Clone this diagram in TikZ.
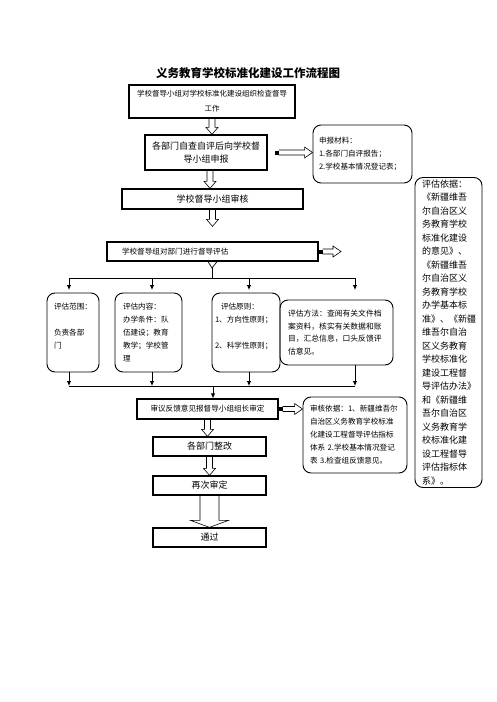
\documentclass[tikz,border=0pt]{standalone}
\usepackage{fontspec}
\setmainfont{Noto Sans CJK SC}
\usetikzlibrary{arrows.meta,positioning,calc}

\newcommand{\vblock}[3][3pt]{%
  \draw[hollow] let \p1=(#2), \p2=(#3) in
    (\x1-#1,\y1) -- (\x1-#1,\y2+7pt) -- (\x1-2*#1,\y2+7pt) -- (\x1,\y2)
    -- (\x1+2*#1,\y2+7pt) -- (\x1+#1,\y2+7pt) -- (\x1+#1,\y1);
}
\newcommand{\hblock}[2]{%
  \fill let \p1=(#1) in (\x1,\y1-2pt) rectangle (\x1+4pt,\y1+2pt);
  \draw[hollow] let \p1=(#1), \p2=(#2) in
    (\x1+4pt,\y1+2.5pt) -- (\x2-8pt,\y1+2.5pt) -- (\x2-8pt,\y1+5.5pt) -- (\x2,\y1)
    -- (\x2-8pt,\y1-5.5pt) -- (\x2-8pt,\y1-2.5pt) -- (\x1+4pt,\y1-2.5pt);
}

\begin{document}
\begin{tikzpicture}[
    x=1pt, y=-1pt,
    mainbox/.style={rectangle, draw, line width=1.3pt, inner sep=0pt, align=center},
    roundbox/.style={rectangle, draw, rounded corners=8pt, line width=0.9pt, inner ysep=0pt, align=left},
    hollow/.style={draw, line width=0.6pt},
    arrow/.style={-{Latex[length=5pt,width=4.5pt]}, line width=0.8pt},
    small/.style={font=\fontsize{7.6}{13}\selectfont},
    mid/.style={font=\fontsize{9}{13}\selectfont}
]
\useasboundingbox (0,0) rectangle (496,702);

\node[font=\fontsize{11.5}{14}\selectfont\bfseries] (title) at (248,73) {义务教育学校标准化建设工作流程图};

\node[mainbox, small, font=\fontsize{7.5}{15}\selectfont, minimum width=166pt, minimum height=33pt] (b1) at (212,101.5)
  {学校督导小组对学校标准化建设组织检查督导\\工作};
\node[mainbox, mid, minimum width=122pt, minimum height=35pt] (b2) at (206,152.5)
  {各部门自查自评后向学校督\\导小组申报};
\node[roundbox, small, text width=87pt, inner xsep=6pt, minimum height=58pt] (r1) at (362.5,154)
  {申报材料：\\1.各部门自评报告；\\2.学校基本情况登记表；};
\node[mainbox, mid, minimum width=181pt, minimum height=20pt] (b3) at (212.5,199) {学校督导小组审核};
\node[mainbox, small, align=left, text width=181pt, inner xsep=15pt, minimum height=19pt] (b4) at (212.5,251.5)
  {学校督导组对部门进行督导评估};

\node[roundbox, small, text width=38pt, inner xsep=7pt, minimum height=79pt] (e1) at (73,332.5)
  {评估范围：\\\mbox{}\\负责各部\\门\\\mbox{}};
\node[roundbox, small, text width=51pt, inner xsep=8pt, minimum height=79pt] (e2) at (148.5,332.5)
  {评估内容：\\办学条件：队\\伍建设；教育\\教学；学校管\\理};
\node[roundbox, small, text width=62pt, inner xsep=3pt, minimum height=79pt] (e3) at (246,332.5)
  {\hspace*{6pt}评估原则：\\1、方向性原则；\\\mbox{}\\2、科学性原则；\\\mbox{}};
\node[roundbox, small, font=\fontsize{7.8}{12.5}\selectfont, text width=97pt, inner xsep=8pt, minimum height=65pt] (e4) at (336.5,332.5)
  {评估方法：查阅有关文件档\\案资料，核实有关数据和账\\目，汇总信息，口头反馈评\\估意见。};

\node[mainbox, small, minimum width=141pt, minimum height=20pt] (b5) at (207.5,409) {审议反馈意见报督导小组组长审定};
\node[roundbox, small, font=\fontsize{7.6}{13}\selectfont, text width=90pt, inner xsep=7pt, minimum height=76pt] (r2) at (355,435)
  {审核依据：1、新疆维吾尔\\自治区义务教育学校标准\\化建设工程督导评估指标\\体系~2.学校基本情况登记\\表~3.检查组反馈意见。};
\node[roundbox, font=\fontsize{9}{13.5}\selectfont, text width=53pt, inner xsep=7pt, minimum height=310pt] (r3) at (448.5,332.5)
  {评估依据：\\《新疆维吾\\尔自治区义\\务教育学校\\标准化建设\\的意见》、\\《新疆维吾\\尔自治区义\\务教育学校\\办学基本标\\准》、《新疆\\维吾尔自治\\区义务教育\\学校标准化\\建设工程督\\导评估办法》\\和《新疆维\\吾尔自治区\\义务教育学\\校标准化建\\设工程督导\\评估指标体\\系》。};

\node[mainbox, mid, minimum width=113pt, minimum height=19pt] (b6) at (209.5,446.5) {各部门整改};
\node[mainbox, mid, minimum width=113pt, minimum height=19pt] (b7) at (209.5,485.5) {再次审定};
\node[mainbox, mid, minimum width=113pt, minimum height=19pt] (b8) at (209.5,537.5) {通过};

\vblock{b1.south}{b2.north}
\vblock{[xshift=4pt]b2.south}{b3.north}
\vblock{b3.south}{[yshift=15pt]b4.north}
\vblock{b5.south}{b6.north}
\vblock{b6.south}{b7.north}
\vblock[9.5pt]{b7.south}{b8.north}

\coordinate (endb4) at (341,251.5);
\hblock{[xshift=7pt]b2.east}{r1.west}
\hblock{b4.east}{endb4}
\hblock{b5.east}{r2.west}

\coordinate (fk) at (212,268);
\coordinate (ft) at (212,278);
\draw[line width=0.7pt] ([xshift=-4.5pt]b4.south) -- (fk) -- ([xshift=4.5pt]b4.south);
\draw[line width=0.8pt] (fk) -- (ft);
\foreach \x/\n in {69/1,152/2,249/3,355/4} {
  \coordinate (t\n) at (\x,278);
  \coordinate (u\n) at (\x,386);
  \draw[arrow] (t\n) -- ++(0,12);
}
\draw[line width=0.8pt] (t1) -- (t4);
\draw[arrow] (u1 |- e1.south) -- (u1);
\draw[arrow] (u2 |- e2.south) -- (u2);
\draw[arrow] (u3 |- e3.south) -- (u3);
\draw[arrow] (u4 |- e4.south) -- (u4);
\draw[line width=0.8pt] (u1) -- (u4);
\coordinate (um) at (213,386);
\draw[arrow] (um) -- (um |- b5.north);
\end{tikzpicture}
\end{document}
